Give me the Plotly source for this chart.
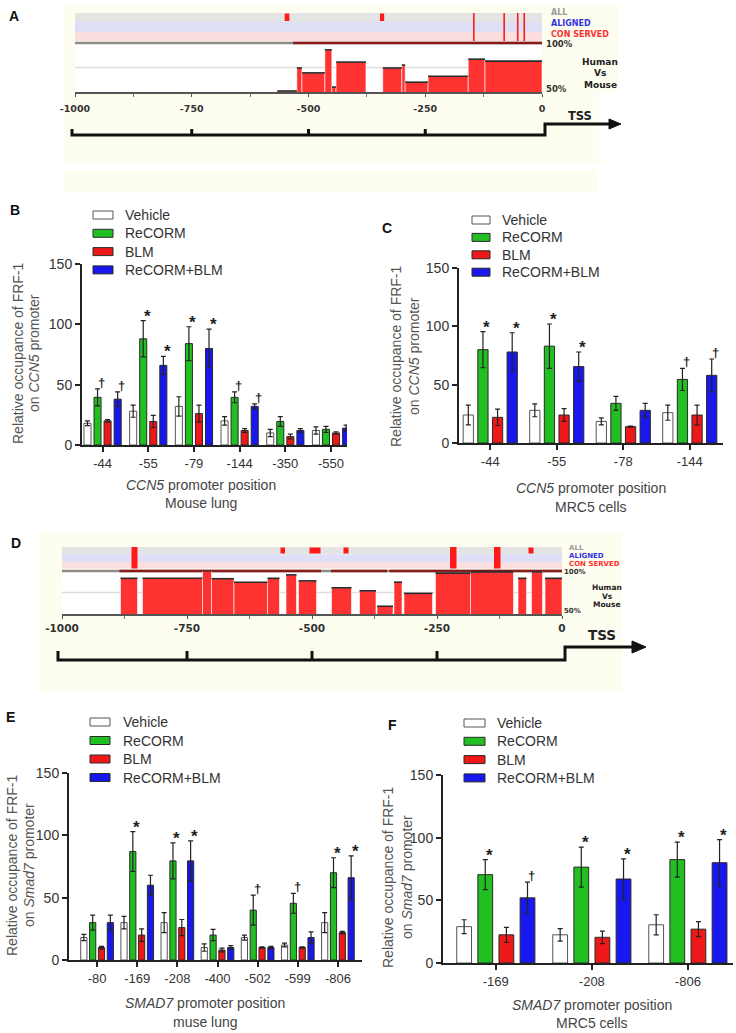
import plotly.graph_objects as go

W, H = 736, 1033
FONT = "Liberation Sans, Arial, sans-serif"
GFONT = "DejaVu Sans, Verdana, sans-serif"

# ---------------- data ----------------
series = ["Vehicle", "ReCORM", "BLM", "ReCORM+BLM"]

B_cats = ["-44", "-55", "-79", "-144", "-350", "-550"]
B_vehicle = [18, 28, 32, 20, 10, 12]
B_vehicle_err = [2, 5, 8, 3.5, 3, 3]
B_recorm = [39.5, 88, 84, 39.5, 19.5, 13]
B_recorm_err = [7, 15, 14, 4.5, 4, 2.5]
B_blm = [20, 19.5, 26, 12, 7, 10]
B_blm_err = [1, 5, 7, 1.5, 2, 1]
B_combo = [38, 66, 80, 32, 12, 14]
B_combo_err = [6, 7.5, 16, 2, 1.5, 2.5]
B_sig = [("-44", 1, "†"), ("-44", 3, "†"), ("-55", 1, "*"), ("-55", 3, "*"),
         ("-79", 1, "*"), ("-79", 3, "*"), ("-144", 1, "†"), ("-144", 3, "†")]

C_cats = ["-44", "-55", "-78", "-144"]
C_vehicle = [24, 28, 18.5, 26]
C_vehicle_err = [8.5, 5.5, 3, 6.5]
C_recorm = [80, 83, 34, 54.5]
C_recorm_err = [15.5, 19, 6, 9.5]
C_blm = [22, 24, 14, 24]
C_blm_err = [7, 5.5, 0.5, 8.5]
C_combo = [78, 65.5, 28, 58]
C_combo_err = [16.5, 12.5, 6, 14]
C_sig = [("-44", 1, "*"), ("-44", 3, "*"), ("-55", 1, "*"), ("-55", 3, "*"),
         ("-144", 1, "†"), ("-144", 3, "†")]

E_cats = ["-80", "-169", "-208", "-400", "-502", "-599", "-806"]
E_vehicle = [18, 30, 30, 10, 18, 12, 30]
E_vehicle_err = [2.5, 5, 8, 3, 2, 1.5, 8]
E_recorm = [30, 87, 79.5, 20, 40, 45.5, 70]
E_recorm_err = [6, 16, 14.5, 4.5, 12, 8, 12]
E_blm = [10, 20, 26, 8, 10, 10, 22]
E_blm_err = [1, 5, 6.5, 1.5, 0.5, 0.5, 1]
E_combo = [30, 60, 79.5, 10, 10, 18, 66]
E_combo_err = [6, 8, 16, 1.5, 1, 4.5, 17.5]
E_sig = [("-169", 1, "*"), ("-208", 1, "*"), ("-208", 3, "*"), ("-502", 1, "†"),
         ("-599", 1, "†"), ("-806", 1, "*"), ("-806", 3, "*")]

F_cats = ["-169", "-208", "-806"]
F_vehicle = [29, 22.5, 30.5]
F_vehicle_err = [5.5, 5, 8]
F_recorm = [70.5, 76.5, 82.5]
F_recorm_err = [12, 16, 14]
F_blm = [22.5, 20.5, 27]
F_blm_err = [6, 5, 6]
F_combo = [52, 67, 80]
F_combo_err = [12.5, 16, 18.5]
F_sig = [("-169", 1, "*"), ("-169", 3, "†"), ("-208", 1, "*"), ("-208", 3, "*"),
         ("-806", 1, "*"), ("-806", 3, "*")]

# conservation (human vs mouse) step profiles, bp relative to TSS and % identity
A_seg_start = [-567, -525, -514, -465, -450, -441, -341, -300, -293, -244, -158, -122]
A_seg_end = [-525, -514, -465, -450, -441, -377, -300, -293, -244, -158, -122, 0]
A_seg_pct = [51, 74.5, 69.5, 93, 55, 80.5, 74.5, 77.5, 60, 66, 83.5, 81.5]
A_track_lines = [-146, -81, -52, -38]
A_track_all = [(-551, -541), (-347, -338)]
A_track_full = []
A_conserved_runs = [(-533, 0)]

D_seg_start = [-883, -839, -719, -701, -656, -589, -552, -527, -461, -405, -370, -336,
               -316, -253, -183, -88, -61, -34]
D_seg_end = [-849, -719, -701, -656, -589, -565, -531, -491, -421, -372, -338, -320,
             -259, -183, -97, -71, -39, 0]
D_seg_pct = [91.5, 91.5, 100, 91, 87, 91.5, 95.5, 88.5, 80.5, 77, 59, 87,
             74, 97.5, 99, 91.5, 99, 91.5]
D_track_lines = []
D_track_all = [(-563, -554), (-505, -483), (-437, -427), (-67, -57)]
D_track_full = [(-861, -849), (-224, -211), (-136, -123)]
D_conserved_runs = [(-885, -482), (-462, -350), (-345, 0)]

genomic_ticks = [-1000, -750, -500, -250, 0]
tss_ticks = [-750, -500, -250]

# ---------------- style ----------------
fill_colors = ["#ffffff", "#22bf22", "#ee1818", "#1818ee"]
edge_colors = ["#555555", "#2a2a2a", "#2a2a2a", "#2a2a2a"]
BARGAP, GROUPGAP = 0.12, 0.3
SLOT = (1 - BARGAP) / 4


def PX(x):
    return x / W


def PY(y):
    return 1 - y / H


fig = go.Figure()
annotations = []
shapes = []


def ann(x, y, text, size=14, color="#333", xanchor="center", yanchor="middle",
        angle=0, bold=False, family=FONT):
    annotations.append(dict(
        x=PX(x), y=PY(y), xref="paper", yref="paper", text=text, showarrow=False,
        xanchor=xanchor, yanchor=yanchor, textangle=angle,
        font=dict(size=size, color=color, family=family,
                  weight="bold" if bold else "normal")))


def rect(x0, y0, x1, y1, fill, line_color=None, lw=0, layer="below"):
    shapes.append(dict(type="rect", xref="paper", yref="paper",
                       x0=PX(x0), x1=PX(x1), y0=PY(y1), y1=PY(y0),
                       fillcolor=fill, layer=layer,
                       line=dict(color=line_color or fill, width=lw)))


def hline(x0, x1, y, color, width, layer="below"):
    shapes.append(dict(type="line", xref="paper", yref="paper",
                       x0=PX(x0), x1=PX(x1), y0=PY(y), y1=PY(y), layer=layer,
                       line=dict(color=color, width=width)))


def vline(x, y0, y1, color, width, layer="above"):
    shapes.append(dict(type="line", xref="paper", yref="paper",
                       x0=PX(x), x1=PX(x), y0=PY(y0), y1=PY(y1), layer=layer,
                       line=dict(color=color, width=width)))


# ---------------- bar panels ----------------
bar_panels = [
    dict(n="", letter="B", letter_xy=(15, 210), cats=B_cats,
         vals=[B_vehicle, B_recorm, B_blm, B_combo],
         errs=[B_vehicle_err, B_recorm_err, B_blm_err, B_combo_err], sig=B_sig,
         dx=(82, 347), dy=(264, 445), xr=(-0.45, 5.35),
         leg_box=(93, 113), leg_rows=(215, 18.3), leg_tx=123,
         ytitle=("Relative occupance of FRF-1", "on <i>CCN5</i> promoter"),
         ytx=(18, 34), yty=353,
         xtitle=("<i>CCN5</i> promoter position", "Mouse lung"), xtx=201, xty=(485, 503)),
    dict(n="2", letter="C", letter_xy=(387, 228), cats=C_cats,
         vals=[C_vehicle, C_recorm, C_blm, C_combo],
         errs=[C_vehicle_err, C_recorm_err, C_blm_err, C_combo_err], sig=C_sig,
         dx=(459, 723), dy=(268, 443), xr=(-0.47, 3.5),
         leg_box=(472, 490), leg_rows=(220, 17.4), leg_tx=500,
         ytitle=("Relative occupance of FRF-1", "on <i>CCN5</i> promoter"),
         ytx=(396, 414), yty=356,
         xtitle=("<i>CCN5</i> promoter position", "MRC5 cells"), xtx=591, xty=(488, 507)),
    dict(n="3", letter="E", letter_xy=(10, 717), cats=E_cats,
         vals=[E_vehicle, E_recorm, E_blm, E_combo],
         errs=[E_vehicle_err, E_recorm_err, E_blm_err, E_combo_err], sig=E_sig,
         dx=(69, 362), dy=(773, 960), xr=(-0.7, 6.6),
         leg_box=(90, 110), leg_rows=(722, 18.5), leg_tx=121,
         ytitle=("Relative occupance of FRF-1", "on <i>Smad7</i> promoter"),
         ytx=(12, 29), yty=865,
         xtitle=("<i>SMAD7</i> promoter position", "muse lung"), xtx=205, xty=(1003, 1022)),
    dict(n="4", letter="F", letter_xy=(393, 725), cats=F_cats,
         vals=[F_vehicle, F_recorm, F_blm, F_combo],
         errs=[F_vehicle_err, F_recorm_err, F_blm_err, F_combo_err], sig=F_sig,
         dx=(443, 733), dy=(775, 963), xr=(-0.55, 2.47),
         leg_box=(464, 485), leg_rows=(723, 18.3), leg_tx=495,
         ytitle=("Relative occupance of FRF-1", "on <i>Smad7</i> promoter"),
         ytx=(388, 407), yty=877,
         xtitle=("<i>SMAD7</i> promoter position", "MRC5 cells"), xtx=592, xty=(1005, 1023)),
]

axis_layout = {}
for p in bar_panels:
    n = p["n"]
    xa, ya = "x" + n, "y" + n
    for s in range(4):
        fig.add_trace(go.Bar(
            x=p["cats"], y=p["vals"][s], name=series[s], xaxis=xa, yaxis=ya,
            marker=dict(color=fill_colors[s], line=dict(color=edge_colors[s], width=1)),
            error_y=dict(type="data", array=p["errs"][s], symmetric=True,
                         color="#222", thickness=1.2, width=2.5),
            showlegend=False))
    axis_layout["xaxis" + n] = dict(
        domain=[PX(p["dx"][0]), PX(p["dx"][1])], anchor=ya, type="category",
        range=list(p["xr"]), showline=True, linecolor="#222", linewidth=2,
        ticks="outside", ticklen=5, tickwidth=2, tickcolor="#222",
        tickfont=dict(size=13, color="#333", family=FONT),
        showgrid=False, zeroline=False, fixedrange=True, automargin=False)
    axis_layout["yaxis" + n] = dict(
        domain=[PY(p["dy"][1]), PY(p["dy"][0])], anchor=xa, range=[0, 150],
        tickvals=[0, 50, 100, 150], showline=True, linecolor="#222", linewidth=2,
        ticks="outside", ticklen=5, tickwidth=2, tickcolor="#222",
        tickfont=dict(size=14, color="#333", family=FONT),
        showgrid=False, zeroline=False, fixedrange=True, automargin=False)
    # significance marks
    for cat, s, sym in p["sig"]:
        i = p["cats"].index(cat)
        xpos = i + (s - 1.5) * SLOT
        ypos = p["vals"][s][i] + p["errs"][s][i]
        annotations.append(dict(
            x=xpos, y=ypos, xref=xa, yref=ya, text=sym, showarrow=False,
            xanchor="center", yanchor="bottom", xshift=4,
            yshift=-7 if sym == "*" else -3,
            font=dict(size=17 if sym == "*" else 13, color="#222", family=FONT,
                      weight="bold")))
    # legend
    y0, dy = p["leg_rows"]
    for s in range(4):
        ry = y0 + s * dy
        rect(p["leg_box"][0], ry - 4, p["leg_box"][1], ry + 4, fill_colors[s],
             line_color=edge_colors[s], lw=1, layer="above")
        ann(p["leg_tx"], ry, series[s], size=14, color="#333", xanchor="left")
    # titles
    ann(p["ytx"][0], p["yty"], p["ytitle"][0], size=14, color="#555", angle=-90)
    ann(p["ytx"][1], p["yty"], p["ytitle"][1], size=14, color="#555", angle=-90)
    ann(p["xtx"], p["xty"][0], p["xtitle"][0], size=14, color="#444")
    ann(p["xtx"], p["xty"][1], p["xtitle"][1], size=14, color="#444")
    ann(p["letter_xy"][0], p["letter_xy"][1], p["letter"], size=14, color="#111", bold=True)

# ---------------- genomic panels ----------------
gen_panels = [
    dict(n="5", letter="A", letter_xy=(14, 16), starts=A_seg_start, ends=A_seg_end,
         pcts=A_seg_pct, lines=A_track_lines, all_marks=A_track_all, full_marks=A_track_full,
         runs=A_conserved_runs,
         x0=75, x1=542, y100=43, y50=92, band=(13, 22, 32, 41),
         cream=[(63, 5, 599, 163), (599, 5, 618, 93), (63, 170, 598, 192)],
         tick_font=9.5, standoff=4, lab_x=549, lab_y=(13, 23.5, 34), lab_size=8,
         pct_x=544, pct_size=8.5, hvm_x=600, hvm_y=(62, 72.5, 85), hvm_size=9,
         tss_y=135, tss_top=124, cap_x=72, step_x=545, arrow_end=621, tick_h=6,
         head=(609, 5), tss_txt=(580, 116, 11.5)),
    dict(n="6", letter="D", letter_xy=(16, 543), starts=D_seg_start, ends=D_seg_end,
         pcts=D_seg_pct, lines=D_track_lines, all_marks=D_track_all, full_marks=D_track_full,
         runs=D_conserved_runs,
         x0=62, x1=562, y100=571, y50=614, band=(547, 554.5, 562, 568.5),
         cream=[(40, 533, 622, 691)],
         tick_font=10.5, standoff=1, lab_x=567, lab_y=(548, 556, 564), lab_size=7,
         pct_x=562, pct_size=7, hvm_x=607, hvm_y=(587, 596, 604), hvm_size=7.5,
         tss_y=660, tss_top=647, cap_x=58, step_x=565, arrow_end=646, tick_h=9,
         head=(632, 6), tss_txt=(602, 635, 13.5)),
]

for g in gen_panels:
    n = g["n"]

    def bp(v, g=g):
        return g["x0"] + (v + 1000) / 1000 * (g["x1"] - g["x0"])

    # backgrounds
    for c in g["cream"]:
        rect(*c, "#fefef0")
    rect(g["x0"], g["y100"], g["x1"], g["y50"], "#ffffff")
    b = g["band"]
    rect(g["x0"], b[0], g["x1"], b[1], "#e4e4e4")
    rect(g["x0"], b[1], g["x1"], b[2], "#dedef7")
    rect(g["x0"], b[2], g["x1"], b[3], "#fbdede")
    # 75 % gridline
    hline(g["x0"], g["x1"], (g["y100"] + g["y50"]) / 2, "#dddddd", 1.5)
    # 100 % line
    hline(g["x0"], g["x1"], g["y100"], "#8c8c8c", 2.5)
    for r0, r1 in g["runs"]:
        hline(bp(r0), bp(r1), g["y100"], "#8b1a1a", 2.5)
    # track marks
    for v in g["lines"]:
        vline(bp(v), b[0], b[3], "#ff1a1a", 1.6)
    for v0, v1 in g["all_marks"]:
        rect(bp(v0), b[0] + 0.5, bp(v1), b[1] - 1, "#ff1a1a", layer="above")
    for v0, v1 in g["full_marks"]:
        rect(bp(v0), b[0], bp(v1), b[3], "#ff1a1a", layer="above")
    # conservation profile
    fig.add_trace(go.Bar(
        x=[(s + e) / 2 for s, e in zip(g["starts"], g["ends"])],
        y=g["pcts"], width=[e - s for s, e in zip(g["starts"], g["ends"])],
        marker=dict(color="#ff3232", line=dict(color="#ffffff", width=0.6)),
        xaxis="x" + n, yaxis="y" + n, showlegend=False))
    tx, ty = [], []
    for s, e, pc in zip(g["starts"], g["ends"], g["pcts"]):
        tx += [s, e, None]
        ty += [pc, pc, None]
    fig.add_trace(go.Scatter(x=tx, y=ty, mode="lines", line=dict(color="#2a2a2a", width=1.6),
                             xaxis="x" + n, yaxis="y" + n, showlegend=False, hoverinfo="skip"))
    axis_layout["xaxis" + n] = dict(
        domain=[PX(g["x0"]), PX(g["x1"])], anchor="y" + n, range=[-1000, 0],
        showline=True, linecolor="#555", linewidth=1.5, ticks="outside", ticklen=3,
        tickcolor="#555", tickvals=genomic_ticks, ticktext=[str(t) for t in genomic_ticks],
        tickfont=dict(size=g["tick_font"], color="#333", family=GFONT, weight="bold"),
        ticklabelstandoff=g["standoff"],
        minor=dict(dtick=125, tick0=-1000, ticks="outside", ticklen=3, tickcolor="#777"),
        showgrid=False, zeroline=False, fixedrange=True, automargin=False)
    axis_layout["yaxis" + n] = dict(
        domain=[PY(g["y50"]), PY(g["y100"])], anchor="x" + n, range=[50, 100],
        visible=False, fixedrange=True, automargin=False)
    # labels
    ann(g["lab_x"], g["lab_y"][0], "ALL", size=g["lab_size"], color="#9a9a9a",
        xanchor="left", bold=True, family=GFONT)
    ann(g["lab_x"], g["lab_y"][1], "ALIGNED", size=g["lab_size"], color="#3434e0",
        xanchor="left", bold=True, family=GFONT)
    ann(g["lab_x"], g["lab_y"][2], "CON SERVED", size=g["lab_size"], color="#ff3030",
        xanchor="left", bold=True, family=GFONT)
    ann(g["pct_x"], g["y100"] + 1, "100%", size=g["pct_size"], color="#333",
        xanchor="left", bold=True, family=GFONT)
    ann(g["pct_x"], g["y50"] - 3, "50%", size=g["pct_size"], color="#333",
        xanchor="left", bold=True, family=GFONT)
    for t, yy in zip(["Human", "Vs", "Mouse"], g["hvm_y"]):
        ann(g["hvm_x"], yy, t, size=g["hvm_size"], color="#222", bold=True, family=GFONT)
    # TSS diagram
    ty0, ty1 = g["tss_y"], g["tss_top"]
    path = (f"M {PX(g['cap_x'])},{PY(ty0 - g['tick_h'])} L {PX(g['cap_x'])},{PY(ty0)} "
            f"L {PX(g['step_x'])},{PY(ty0)} L {PX(g['step_x'])},{PY(ty1)} "
            f"L {PX(g['head'][0] + 2)},{PY(ty1)}")
    shapes.append(dict(type="path", xref="paper", yref="paper", path=path,
                       line=dict(color="#111", width=3), layer="above"))
    for v in tss_ticks:
        vline(bp(v), ty0 - g["tick_h"], ty0, "#111", 3)
    hx, hh = g["head"]
    head = (f"M {PX(hx)},{PY(ty1 - hh)} L {PX(g['arrow_end'])},{PY(ty1)} "
            f"L {PX(hx)},{PY(ty1 + hh)} Z")
    shapes.append(dict(type="path", xref="paper", yref="paper", path=head,
                       fillcolor="#111", line=dict(color="#111", width=1), layer="above"))
    ann(g["tss_txt"][0], g["tss_txt"][1], "TSS", size=g["tss_txt"][2], color="#222",
        bold=True, family=GFONT)
    ann(g["letter_xy"][0], g["letter_xy"][1], g["letter"], size=14, color="#111", bold=True)

fig.update_layout(
    width=W, height=H, margin=dict(l=0, r=0, t=0, b=0, pad=0, autoexpand=False),
    paper_bgcolor="#ffffff", plot_bgcolor="rgba(0,0,0,0)",
    barmode="group", bargap=BARGAP, bargroupgap=GROUPGAP, showlegend=False,
    font=dict(family=FONT, color="#333"),
    annotations=annotations, shapes=shapes, **axis_layout)

fig.write_html(
    "out.html",
    config={"displayModeBar": False, "staticPlot": True},
    post_script="document.body.style.margin='0';document.body.style.overflow='hidden';")
